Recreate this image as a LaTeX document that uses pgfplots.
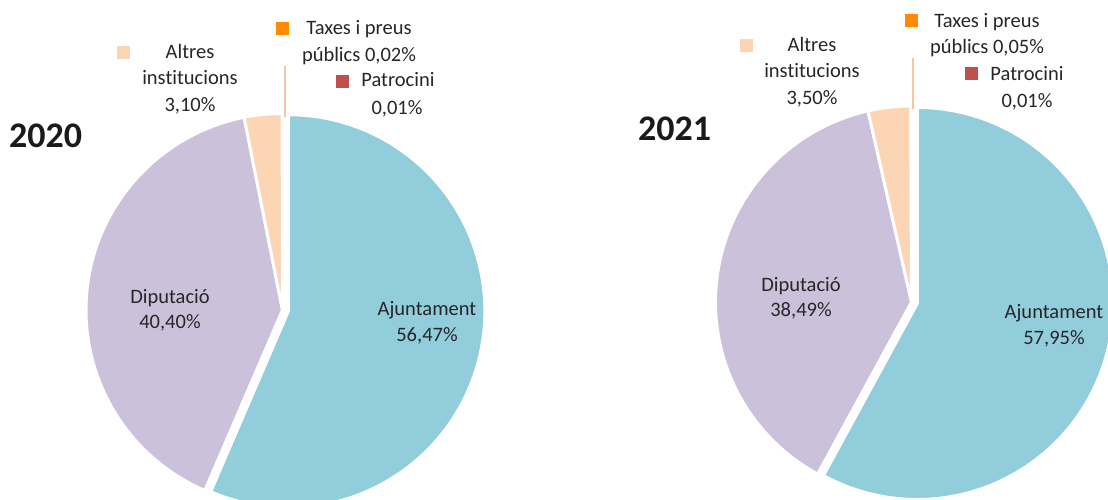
\documentclass[border=0pt]{standalone}
\usepackage{pgfplots}
\pgfplotsset{compat=1.18}
\usepackage{fontspec}
\setmainfont[Ligatures={NoCommon}]{Carlito}
\definecolor{cAj}{HTML}{92CDDC}
\definecolor{cDi}{HTML}{CCC1DA}
\definecolor{cAl}{HTML}{FCD5B5}
\definecolor{cTx}{HTML}{FF8C00}
\definecolor{cPa}{HTML}{C0504D}
\definecolor{cLead}{HTML}{F7C6A0}
\definecolor{txt}{HTML}{262626}
\definecolor{yr}{HTML}{1A1A1A}
\tikzset{
  lbl/.style={anchor=base, inner sep=0pt, text=txt, font=\fontsize{20.5bp}{26bp}\selectfont},
  yrs/.style={anchor=base west, inner sep=0pt, text=yr, font=\fontsize{36bp}{40bp}\selectfont\bfseries},
}

% ---- data (percent) ----
% 2020
\def\AjA{56.47}\def\DiA{40.40}\def\AlA{3.10}\def\TxA{0.02}\def\PaA{0.01}
% 2021
\def\AjB{57.95}\def\DiB{38.49}\def\AlB{3.50}\def\TxB{0.05}\def\PaB{0.01}

% cumulative angles (clockwise from top)
\pgfmathsetmacro\aAa{\AjA*3.6}
\pgfmathsetmacro\aAb{\aAa+\DiA*3.6}
\pgfmathsetmacro\aAc{\aAb+\AlA*3.6}
\pgfmathsetmacro\aAd{\aAc+\TxA*3.6}
\pgfmathsetmacro\aAe{\aAd+\PaA*3.6}
\pgfmathsetmacro\aBa{\AjB*3.6}
\pgfmathsetmacro\aBb{\aBa+\DiB*3.6}
\pgfmathsetmacro\aBc{\aBb+\AlB*3.6}
\pgfmathsetmacro\aBd{\aBc+\TxB*3.6}
\pgfmathsetmacro\aBe{\aBd+\PaB*3.6}
% centres, radii, explosion offsets
\def\cxA{282.5}\def\cyA{310}\def\RA{196.5}
\def\cxB{911.5}\def\cyB{302}\def\RB{196}
\pgfmathsetmacro\oxA{6*sin(\aAa/2)}\pgfmathsetmacro\oyA{-6*cos(\aAa/2)}
\pgfmathsetmacro\oxB{6*sin(\aBa/2)}\pgfmathsetmacro\oyB{-6*cos(\aBa/2)}
\pgfmathsetmacro\exA{\cxA+\oxA}\pgfmathsetmacro\eyA{\cyA+\oyA}
\pgfmathsetmacro\exB{\cxB+\oxB}\pgfmathsetmacro\eyB{\cyB+\oyB}

\begin{document}
\begin{tikzpicture}
\begin{axis}[name=ax,
  width=1108bp, height=499bp, scale only axis,
  xmin=0, xmax=1108, ymin=0, ymax=499, y dir=reverse,
  hide axis, clip=true,
  samples=120,
]
% ---------- 2020 ----------
\addplot[fill=cTx, draw=none, domain=\aAc:\aAd, samples=3] ({\cxA+\RA*sin(x)},{\cyA-\RA*cos(x)}) -- (axis cs:\cxA,\cyA) -- cycle;
\addplot[fill=cPa, draw=none, domain=\aAd:\aAe, samples=3] ({\cxA+\RA*sin(x)},{\cyA-\RA*cos(x)}) -- (axis cs:\cxA,\cyA) -- cycle;
\addplot[fill=cDi, draw=white, line width=3bp, line join=miter, domain=\aAa:\aAb] ({\cxA+\RA*sin(x)},{\cyA-\RA*cos(x)}) -- (axis cs:\cxA,\cyA) -- cycle;
\addplot[fill=cAl, draw=white, line width=3bp, domain=\aAb:\aAc, samples=20] ({\cxA+\RA*sin(x)},{\cyA-\RA*cos(x)}) -- (axis cs:\cxA,\cyA) -- cycle;
\addplot[fill=cAj, draw=white, line width=3bp, line join=miter, domain=0:\aAa] ({\exA+\RA*sin(x)},{\eyA-\RA*cos(x)}) -- (axis cs:\exA,\eyA) -- cycle;
\addplot[cLead, line width=1.5bp] coordinates {(285,117) (285,66)};
% ---------- 2021 ----------
\addplot[fill=cTx, draw=none, domain=\aBc:\aBd, samples=3] ({\cxB+\RB*sin(x)},{\cyB-\RB*cos(x)}) -- (axis cs:\cxB,\cyB) -- cycle;
\addplot[fill=cPa, draw=none, domain=\aBd:\aBe, samples=3] ({\cxB+\RB*sin(x)},{\cyB-\RB*cos(x)}) -- (axis cs:\cxB,\cyB) -- cycle;
\addplot[fill=cDi, draw=white, line width=3bp, line join=miter, domain=\aBa:\aBb] ({\cxB+\RB*sin(x)},{\cyB-\RB*cos(x)}) -- (axis cs:\cxB,\cyB) -- cycle;
\addplot[fill=cAl, draw=white, line width=3bp, domain=\aBb:\aBc, samples=20] ({\cxB+\RB*sin(x)},{\cyB-\RB*cos(x)}) -- (axis cs:\cxB,\cyB) -- cycle;
\addplot[fill=cAj, draw=white, line width=3bp, line join=miter, domain=0:\aBa] ({\exB+\RB*sin(x)},{\eyB-\RB*cos(x)}) -- (axis cs:\exB,\eyB) -- cycle;
\addplot[cLead, line width=1.5bp] coordinates {(913,109) (913,58)};

% ---------- label keys ----------
\addplot[only marks, mark=square*, mark size=6bp, color=cAl] coordinates {(123,52) (746,45)};
\addplot[only marks, mark=square*, mark size=6bp, color=cTx] coordinates {(282,28) (911,20)};
\addplot[only marks, mark=square*, mark size=6bp, color=cPa] coordinates {(342,81) (971,73)};

% ---------- text 2020 ----------
\node[yrs] at (axis cs:9,147) {2020};
\node[lbl] at (axis cs:190,59) {Altres};
\node[lbl] at (axis cs:190,85) {institucions};
\node[lbl] at (axis cs:190,111) {3,10\%};
\node[lbl] at (axis cs:359,35) {Taxes i preus};
\node[lbl] at (axis cs:359,62) {públics 0,02\%};
\node[lbl] at (axis cs:398,87) {Patrocini};
\node[lbl] at (axis cs:397,114) {0,01\%};
\node[lbl] at (axis cs:170,303) {Diputació};
\node[lbl] at (axis cs:170,328) {40,40\%};
\node[lbl] at (axis cs:427,315) {Ajuntament};
\node[lbl] at (axis cs:427,341) {56,47\%};
% ---------- text 2021 ----------
\node[yrs] at (axis cs:638,140) {2021};
\node[lbl] at (axis cs:812,52) {Altres};
\node[lbl] at (axis cs:812,78) {institucions};
\node[lbl] at (axis cs:812,104) {3,50\%};
\node[lbl] at (axis cs:987,28) {Taxes i preus};
\node[lbl] at (axis cs:987,54) {públics 0,05\%};
\node[lbl] at (axis cs:1027,81) {Patrocini};
\node[lbl] at (axis cs:1027,107) {0,01\%};
\node[lbl] at (axis cs:801,291) {Diputació};
\node[lbl] at (axis cs:801,316) {38,49\%};
\node[lbl] at (axis cs:1054,318) {Ajuntament};
\node[lbl] at (axis cs:1054,344) {57,95\%};
\end{axis}
\pgfresetboundingbox
\useasboundingbox (ax.south west) rectangle (ax.north east);
\end{tikzpicture}
\end{document}
